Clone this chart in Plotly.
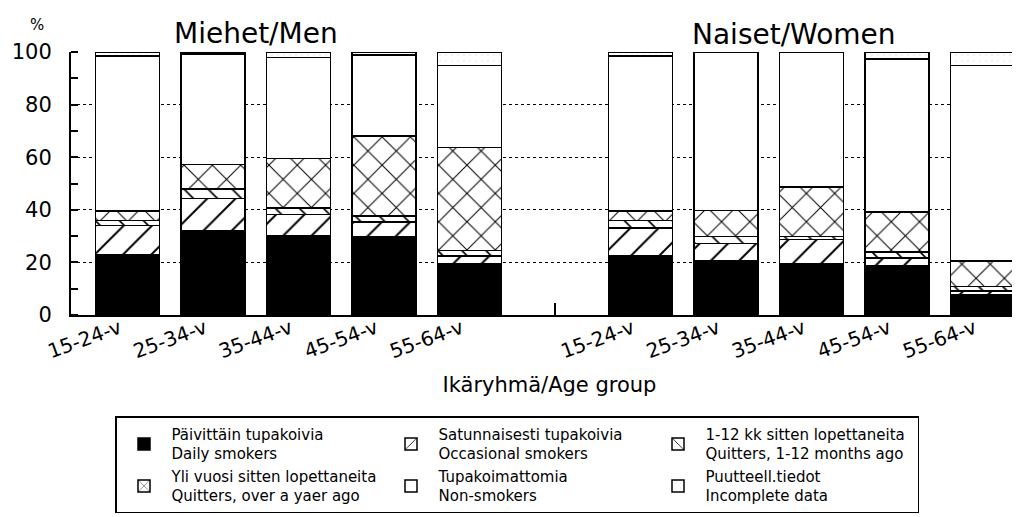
import plotly.graph_objects as go

# ---------------- data ----------------
age_groups = ["15-24-v", "25-34-v", "35-44-v", "45-54-v", "55-64-v"]

# Men (Miehet), % per age group
men_daily       = [23.0, 32.0, 30.0, 29.8, 19.6]
men_occasional  = [11.0, 12.3,  8.3,  5.5,  2.9]
men_quit_1_12   = [ 2.0,  3.7,  2.4,  2.4,  2.0]
men_quit_year   = [ 3.5,  9.2, 18.9, 30.3, 39.1]
men_non         = [59.0, 42.0, 38.4, 30.8, 31.3]
men_incomplete  = [ 1.5,  0.8,  2.0,  1.2,  5.1]

# Women (Naiset), % per age group
women_daily      = [22.4, 20.5, 19.5, 18.8,  7.8]
women_occasional = [10.6,  6.6,  9.2,  2.9,  1.3]
women_quit_1_12  = [ 2.9,  2.7,  1.1,  2.3,  1.8]
women_quit_year  = [ 3.6, 10.0, 18.9, 15.2,  9.6]
women_non        = [59.0, 60.0, 51.1, 58.1, 74.4]
women_incomplete = [ 1.5,  0.2,  0.2,  2.7,  5.1]

series_names = [
    "Päivittäin tupakoivia<br>Daily smokers",
    "Satunnaisesti tupakoivia<br>Occasional smokers",
    "1-12 kk sitten lopettaneita<br>Quitters, 1-12 months ago",
    "Yli vuosi sitten lopettaneita<br>Quitters, over a yaer ago",
    "Tupakoimattomia<br>Non-smokers",
    "Puutteell.tiedot<br>Incomplete data",
]
men_series = [men_daily, men_occasional, men_quit_1_12, men_quit_year, men_non, men_incomplete]
women_series = [women_daily, women_occasional, women_quit_1_12, women_quit_year, women_non, women_incomplete]

grid_values = [20, 40, 60, 80]
group_titles = ["Miehet/Men", "Naiset/Women"]

# ---------------- positions (slot index, one empty slot between groups) ----------------
n = len(age_groups)
men_pos = list(range(n))
gap_pos = n
women_pos = [n + 1 + i for i in range(n)]
tick_pos = men_pos + [gap_pos] + women_pos
tick_text = age_groups + [""] + age_groups

FONT = "DejaVu Sans, Verdana, sans-serif"

styles = [
    dict(color="black", pattern=dict(shape="")),
    dict(color="white", pattern=dict(shape="/", fgcolor="black", bgcolor="white", fgopacity=1, size=20, solidity=0.1)),
    dict(color="white", pattern=dict(shape="\\", fgcolor="black", bgcolor="white", fgopacity=1, size=17, solidity=0.1)),
    dict(color="white", pattern=dict(shape="x", fgcolor="black", bgcolor="white", fgopacity=1, size=20, solidity=0.1)),
    dict(color="white", pattern=dict(shape="")),
    dict(color="white", pattern=dict(shape=".", fgcolor="#d4d4d4", bgcolor="white", size=6, solidity=0.08)),
]

fig = go.Figure()
for name, m, w, st in zip(series_names, men_series, women_series, styles):
    fig.add_trace(go.Bar(
        x=men_pos + women_pos,
        y=m + w,
        name=name,
        width=0.75,
        cliponaxis=False,
        marker=dict(color=st["color"], pattern=st["pattern"],
                    line=dict(color="black", width=1.5)),
    ))

# invisible trace on an overlaid axis to carry the dotted gridlines (no line at 100)
fig.add_trace(go.Scatter(x=[men_pos[0]], y=[grid_values[0]], yaxis="y2",
                         mode="markers", marker=dict(opacity=0),
                         showlegend=False, hoverinfo="skip"))

W, H = 1020, 517
L, R, T, B = 63, 0, 43.5, 209.7
plot_h = H - T - B
plot_w = W - L - R
slot_px = 85.5
x0 = -(119.5 - L) / slot_px
x1 = x0 + plot_w / slot_px

fig.update_layout(
    width=W, height=H,
    margin=dict(l=L, r=R, t=T, b=B, autoexpand=False),
    paper_bgcolor="white", plot_bgcolor="white",
    barmode="stack",
    font=dict(family=FONT, color="black"),
    showlegend=True,
    xaxis=dict(
        range=[x0, x1],
        tickvals=tick_pos, ticktext=tick_text,
        tickangle=-20,
        tickfont=dict(size=20, family=FONT),
        ticks="inside", ticklen=12, tickwidth=1.5, tickcolor="black",
        ticklabelstandoff=-8, ticklabelshift=-8,
        showline=True, linecolor="black", linewidth=2,
        showgrid=False, zeroline=False,
        layer="below traces",
        title=dict(text="Ikäryhmä/Age group", font=dict(size=21, family=FONT)),
    ),
    yaxis=dict(
        range=[0, 100],
        tickvals=[0, 20, 40, 60, 80, 100],
        tickfont=dict(size=21, family=FONT),
        ticks="", ticklabelstandoff=13,
        showline=True, linecolor="black", linewidth=2,
        showgrid=False, zeroline=False,
        minor=dict(ticks="inside", dtick=10, ticklen=7, tickwidth=1.5, tickcolor="black", showgrid=False),
        layer="below traces",
    ),
    yaxis2=dict(
        overlaying="y", matches="y", range=[0, 100],
        tickvals=grid_values, showticklabels=False, ticks="",
        showgrid=True, gridcolor="black", gridwidth=1.2, griddash="dot",
        zeroline=False, showline=False,
        layer="below traces",
    ),
    legend=dict(
        orientation="h",
        x=(107 - L) / plot_w, xanchor="left",
        y=-(409 - (T + plot_h)) / plot_h, yanchor="top",
        entrywidth=207, entrywidthmode="pixels",
        itemwidth=45,
        traceorder="normal",
        font=dict(size=15, family=FONT),
        bordercolor="black", borderwidth=1.5, bgcolor="white",
        itemclick=False, itemdoubleclick=False,
    ),
    annotations=[
        dict(text=group_titles[0], x=1.50, xref="x", y=(T + plot_h - 25) / plot_h, yref="paper",
             showarrow=False, xanchor="center", yanchor="middle", font=dict(size=28, family=FONT)),
        dict(text=group_titles[1], x=7.80, xref="x", y=(T + plot_h - 26) / plot_h, yref="paper",
             showarrow=False, xanchor="center", yanchor="middle", font=dict(size=28, family=FONT)),
        dict(text="%", x=(28.5 - L) / plot_w, xref="paper", y=(T + plot_h - 16) / plot_h, yref="paper",
             showarrow=False, xanchor="center", yanchor="middle", font=dict(size=15, family=FONT)),
    ],
)

fig.write_html("out.html")
